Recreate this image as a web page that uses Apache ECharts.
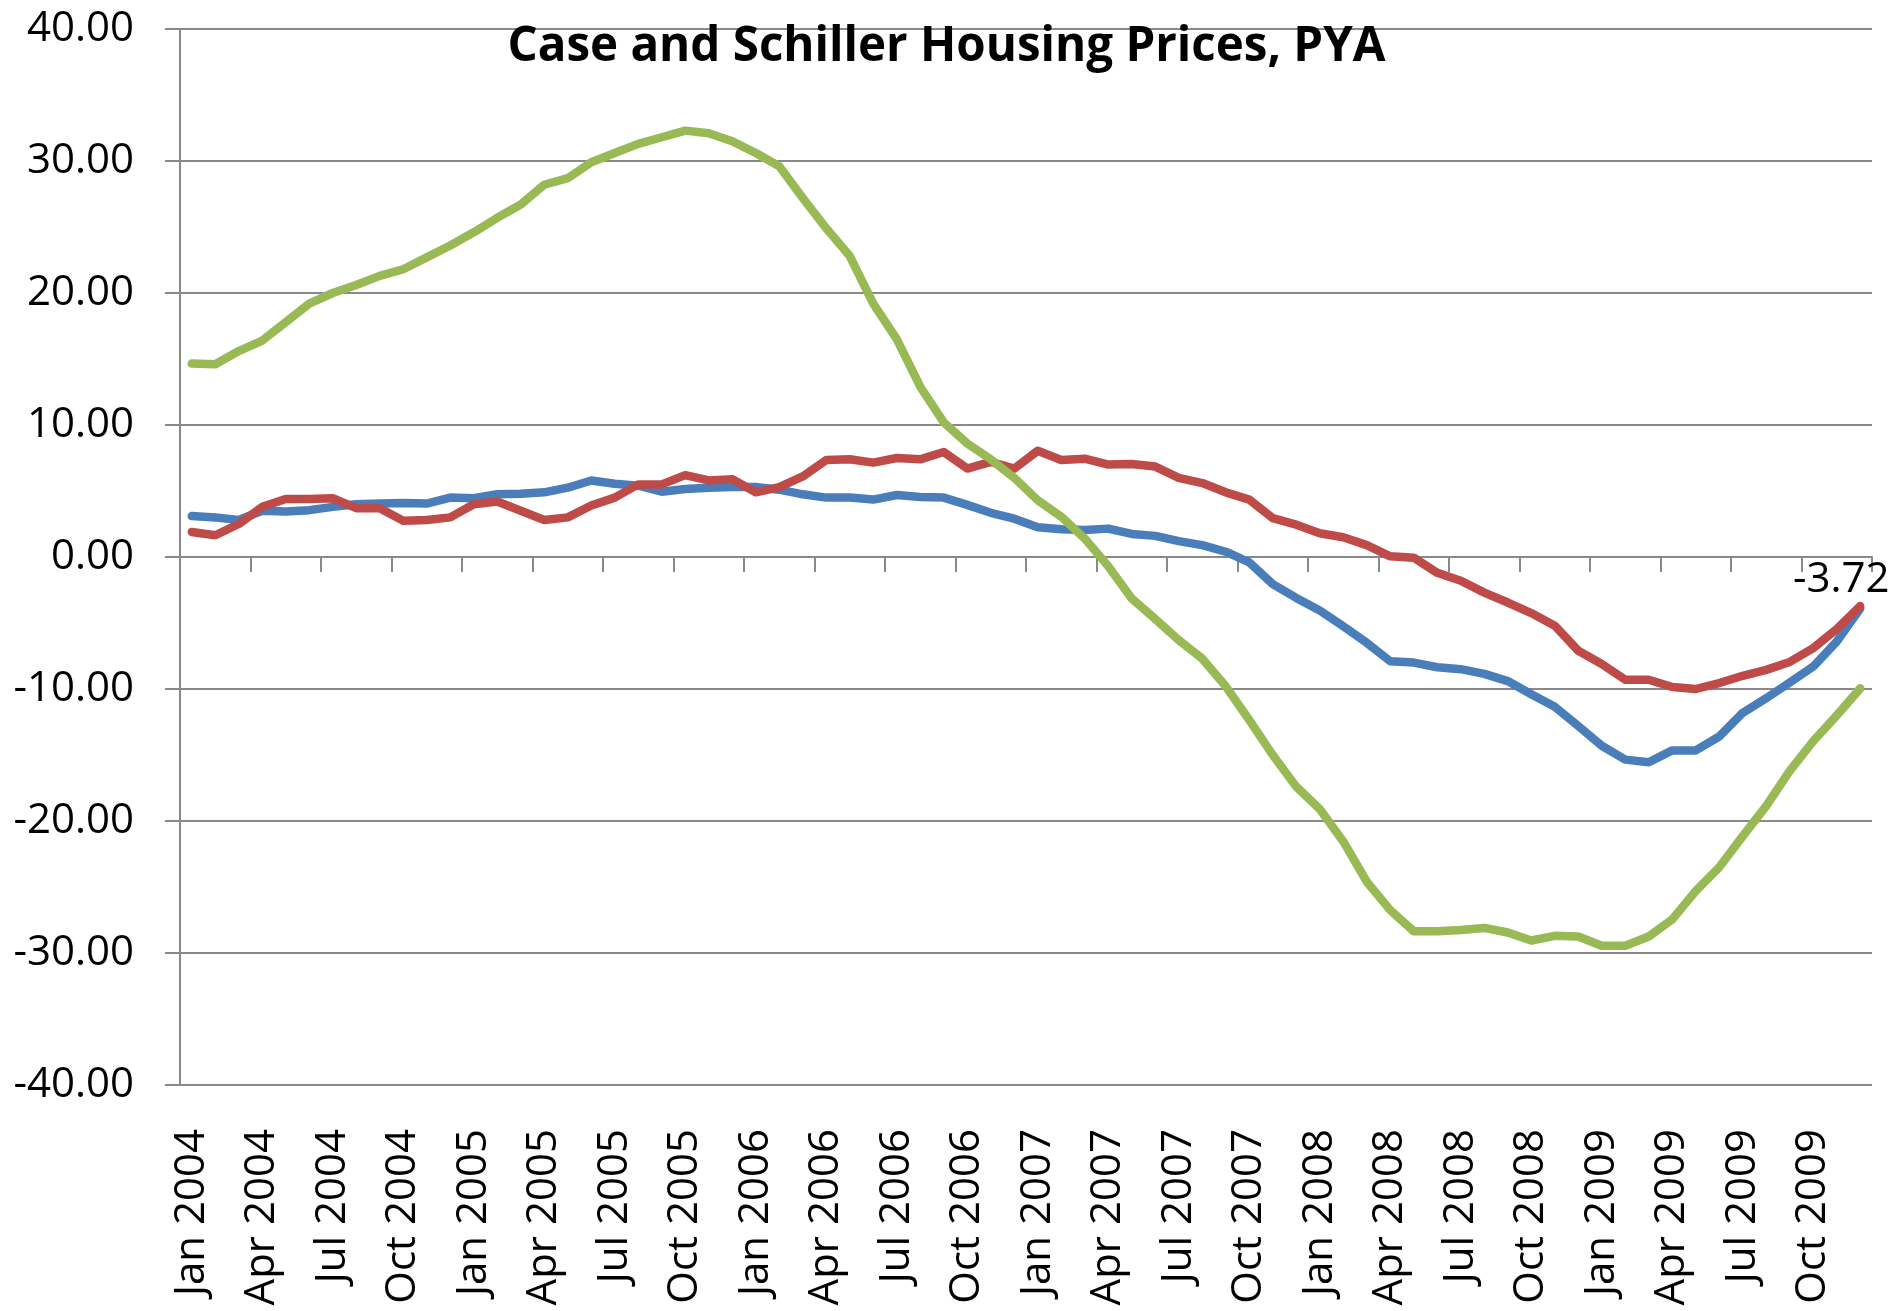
<!DOCTYPE html>
<html>
<head>
<meta charset="utf-8">
<title>Case and Schiller Housing Prices, PYA</title>
<script src="https://cdn.jsdelivr.net/npm/echarts@6.0.0/dist/echarts.min.js"></script>
<style>
  html, body { margin: 0; padding: 0; background: #fff; }
  #chart { width: 1893px; height: 1311px; }
</style>
</head>
<body>
<div id="chart"></div>
<script>
  // monthly PYA values, Jan 2004 .. Dec 2009
  const months = ['Jan', 'Feb', 'Mar', 'Apr', 'May', 'Jun', 'Jul', 'Aug', 'Sep', 'Oct', 'Nov', 'Dec'];
  const years = [2004, 2005, 2006, 2007, 2008, 2009];

  const blueValues = [
    3.1, 3.0, 2.8, 3.5, 3.45, 3.55, 3.8, 4.0, 4.05, 4.1,
    4.05, 4.5, 4.45, 4.75, 4.8, 4.9, 5.25, 5.8, 5.55, 5.4,
    4.95, 5.15, 5.25, 5.3, 5.3, 5.1, 4.75, 4.5, 4.5, 4.35,
    4.7, 4.55, 4.5, 3.95, 3.35, 2.9, 2.25, 2.1, 2.05, 2.15,
    1.75, 1.6, 1.2, 0.9, 0.4, -0.4, -2.05, -3.1, -4.05, -5.25,
    -6.5, -7.9, -8.0, -8.35, -8.5, -8.85, -9.4, -10.4, -11.35, -12.8,
    -14.3, -15.35, -15.55, -14.65, -14.65, -13.6, -11.8, -10.7, -9.5, -8.3,
    -6.4, -3.9
  ];
  const redValues = [
    1.9, 1.65, 2.5, 3.8, 4.4, 4.4, 4.45, 3.7, 3.7, 2.75,
    2.8, 3.0, 4.0, 4.2, 3.5, 2.8, 3.0, 3.9, 4.5, 5.5,
    5.5, 6.2, 5.8, 5.9, 4.9, 5.3, 6.1, 7.35, 7.4, 7.15,
    7.5, 7.4, 7.95, 6.7, 7.2, 6.7, 8.05, 7.35, 7.45, 7.0,
    7.05, 6.85, 6.0, 5.6, 4.9, 4.35, 2.95, 2.45, 1.8, 1.5,
    0.9, 0.05, -0.05, -1.2, -1.8, -2.7, -3.45, -4.25, -5.2, -7.1,
    -8.1, -9.3, -9.3, -9.85, -10.0, -9.55, -9.0, -8.55, -7.95, -6.9,
    -5.45, -3.72
  ];
  const greenValues = [
    14.65, 14.6, 15.6, 16.4, 17.8, 19.2, 20.0, 20.6, 21.3, 21.8,
    22.7, 23.6, 24.6, 25.7, 26.7, 28.2, 28.7, 29.9, 30.6, 31.3,
    31.8, 32.3, 32.1, 31.5, 30.6, 29.6, 27.2, 24.9, 22.8, 19.2,
    16.5, 12.9, 10.2, 8.6, 7.4, 6.0, 4.3, 3.05, 1.4, -0.7,
    -3.15, -4.7, -6.3, -7.7, -9.8, -12.35, -15.0, -17.4, -19.1, -21.55,
    -24.6, -26.75, -28.35, -28.35, -28.25, -28.1, -28.45, -29.05, -28.7, -28.75,
    -29.45, -29.45, -28.75, -27.45, -25.3, -23.5, -21.15, -18.85, -16.2, -13.95,
    -12.0, -9.95
  ];

  const categories = [];
  years.forEach(y => months.forEach(m => categories.push(m + ' ' + y)));

  const font = "'Open Sans', sans-serif";
  const gray = '#898989';

  // only the last red point carries a label
  const redData = redValues.map((v, i) => i === redValues.length - 1
    ? { value: v, label: { show: true } }
    : v);

  function lineSeries(name, color, data) {
    return {
      name: name,
      type: 'line',
      data: data,
      showSymbol: true,
      symbol: 'circle',
      symbolSize: 0,
      lineStyle: { color: color, width: 8.5, cap: 'round', join: 'round' },
      itemStyle: { color: color },
      label: {
        show: false,
        position: 'top',
        offset: [-19, 0],
        fontFamily: font,
        fontSize: 42,
        color: '#000',
        formatter: p => p.value.toFixed(2)
      },
      emphasis: { disabled: true },
      z: 3
    };
  }

  const chart = echarts.init(document.getElementById('chart'));
  chart.setOption({
    backgroundColor: '#fff',
    animation: false,
    title: {
      text: 'Case and Schiller Housing Prices, PYA',
      left: 'center',
      top: 18,
      textStyle: {
        fontFamily: "'Open Sans', sans-serif",
        fontWeight: 'bold',
        fontSize: 47.5,
        color: '#000'
      }
    },
    grid: {
      left: 180,
      right: 21,
      top: 29,
      bottom: 226,
      outerBoundsMode: 'none'
    },
    xAxis: [
      {
        type: 'category',
        data: categories,
        position: 'bottom',
        axisLine: { show: false, onZero: false },
        axisTick: { show: false },
        splitLine: { show: false },
        axisLabel: {
          interval: 2,
          rotate: 90,
          margin: 44,
          fontFamily: font,
          fontSize: 42,
          color: '#000'
        }
      },
      {
        type: 'category',
        data: categories,
        position: 'bottom',
        axisLine: { show: true, onZero: true, lineStyle: { color: gray, width: 2 } },
        axisTick: { show: true, interval: 2, length: 15, lineStyle: { color: gray, width: 2 } },
        axisLabel: { show: false },
        splitLine: { show: false }
      }
    ],
    yAxis: {
      type: 'value',
      min: -40,
      max: 40,
      interval: 10,
      axisLine: { show: true, lineStyle: { color: gray, width: 2 } },
      axisTick: { show: true, length: 15, lineStyle: { color: gray, width: 2 } },
      splitLine: { show: true, lineStyle: { color: gray, width: 2 } },
      axisLabel: {
        margin: 46,
        fontFamily: font,
        fontSize: 42,
        color: '#000',
        formatter: v => v.toFixed(2)
      }
    },
    series: [
      lineSeries('Blue', '#4A7EBB', blueValues),
      lineSeries('Red', '#BE4B48', redData),
      lineSeries('Green', '#98B954', greenValues)
    ]
  });
</script>
</body>
</html>
